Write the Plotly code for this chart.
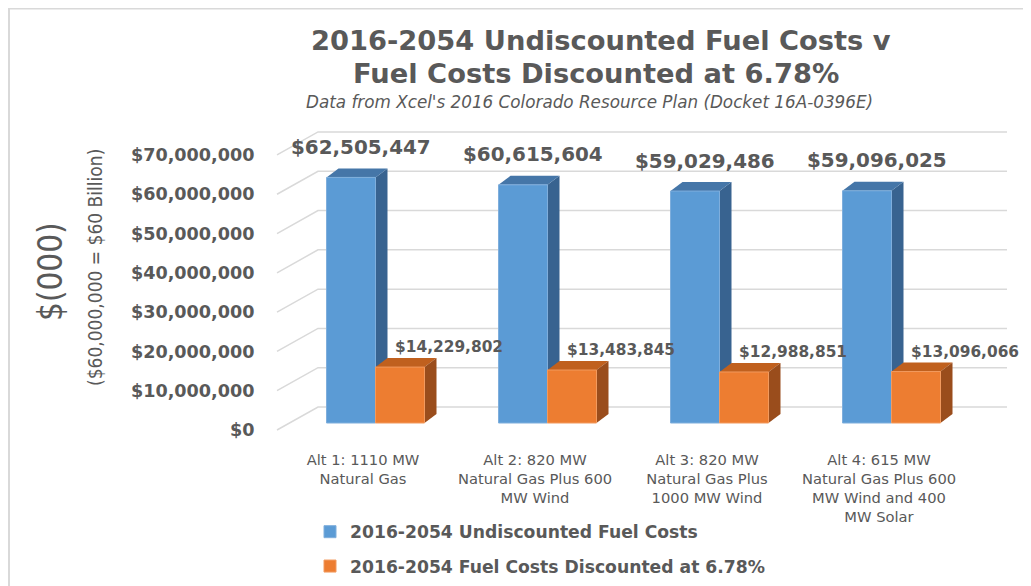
import plotly.graph_objects as go

# ---------------- data ----------------
categories = [
    "Alt 1: 1110 MW<br>Natural Gas",
    "Alt 2: 820 MW<br>Natural Gas Plus 600<br>MW Wind",
    "Alt 3: 820 MW<br>Natural Gas Plus<br>1000 MW Wind",
    "Alt 4: 615 MW<br>Natural Gas Plus 600<br>MW Wind and 400<br>MW Solar",
]
undiscounted = [62505447, 60615604, 59029486, 59096025]
discounted = [14229802, 13483845, 12988851, 13096066]
series_names = [
    "2016-2054 Undiscounted Fuel Costs",
    "2016-2054 Fuel Costs Discounted at 6.78%",
]
tick_values = [0, 10000000, 20000000, 30000000, 40000000, 50000000, 60000000, 70000000]
tick_labels = ["$" + format(v, ",") for v in tick_values]

# ---------------- layout geometry (screen pixels) ----------------
OFF = 8                      # page body margin
WIN_W, WIN_H = 1031, 586
FIG_W, FIG_H = WIN_W - OFF, WIN_H - OFF
PL, PR, PT, PB = 270, 1015, 120, 445
X0_PX = 375.5          # pixel of category 0
PX_PER_CAT = 172.0
Y0_PX = 423.0          # pixel of value 0 (bar front plane)
PX_PER_VAL = 3.929e-6

def dx(px):
    return px / PX_PER_CAT

def dy(px):
    return px / PX_PER_VAL

def xpx(px):
    return (px - X0_PX) / PX_PER_CAT

def ppx(px):
    return (px - PL) / (PR - PL)

def ppy(py):
    return (PB - py) / (PB - PT)

xr = [xpx(PL), xpx(PR)]
yr = [(Y0_PX - PB) / PX_PER_VAL, (Y0_PX - PT) / PX_PER_VAL]

BAR_W = dx(49)
DEPTH_X = dx(12)
DEPTH_Y = dy(9)

BLUE, BLUE_TOP, BLUE_SIDE = "#5B9BD5", "#4576A8", "#386390"
ORANGE, ORANGE_TOP, ORANGE_SIDE = "#ED7D31", "#C0601E", "#9A4D1C"
GRID = "#D9D9D9"
TXT = "#595959"
BOLD = "DejaVu Sans"
NARROW = "Liberation Sans Narrow, DejaVu Sans Condensed, sans-serif"

shapes = []

# back wall + side wall gridlines
x_front = xpx(277)
x_back = xpx(318)
x_end = xpx(1007)
for v in tick_values:
    fy = v - dy(7)
    by = v + dy(16)
    shapes.append(dict(
        type="path", xref="x", yref="y", layer="below",
        path=f"M {x_front},{fy} L {x_back},{by} L {x_end},{by}",
        line=dict(color=GRID, width=1.5),
    ))

def poly(pts, color):
    p = "M " + " L ".join(f"{a},{b}" for a, b in pts) + " Z"
    return dict(type="path", xref="x", yref="y", layer="below", path=p,
                fillcolor=color, line=dict(width=0))

xs = list(range(len(categories)))
# blue side + top faces
for i, v in zip(xs, undiscounted):
    shapes.append(poly([(i, 0), (i + DEPTH_X, DEPTH_Y), (i + DEPTH_X, v + DEPTH_Y), (i, v)], BLUE_SIDE))
    shapes.append(poly([(i - BAR_W, v), (i, v), (i + DEPTH_X, v + DEPTH_Y), (i - BAR_W + DEPTH_X, v + DEPTH_Y)], BLUE_TOP))
# orange top + side faces
for i, v in zip(xs, discounted):
    shapes.append(poly([(i, v), (i + BAR_W, v), (i + BAR_W + DEPTH_X, v + DEPTH_Y), (i + DEPTH_X, v + DEPTH_Y)], ORANGE_TOP))
    shapes.append(poly([(i + BAR_W, 0), (i + BAR_W + DEPTH_X, DEPTH_Y), (i + BAR_W + DEPTH_X, v + DEPTH_Y), (i + BAR_W, v)], ORANGE_SIDE))

# chart border (top and left edges visible)
shapes.append(dict(
    type="path", xref="paper", yref="paper", layer="above",
    path=f"M {ppx(9)},{ppy(600)} L {ppx(9)},{ppy(8.5)} L {ppx(1040)},{ppy(8.5)}",
    line=dict(color="#D9D9D9", width=2),
))

fig = go.Figure()
fig.add_trace(go.Bar(
    x=xs, y=undiscounted, width=BAR_W, offset=-BAR_W, name=series_names[0],
    legendgroup="a", marker=dict(color=BLUE, line=dict(color="#7FAEDC", width=1)),
))
fig.add_trace(go.Bar(
    x=xs, y=discounted, width=BAR_W, offset=0, name=series_names[1],
    legendgroup="b", marker=dict(color=ORANGE, line=dict(color="#F29A5E", width=1)),
))

annotations = []
for i, v in zip(xs, undiscounted):
    annotations.append(dict(
        x=i - BAR_W / 2 + dx(10), y=v, xref="x", yref="y", yshift=30,
        xanchor="center", yanchor="middle",
        text="$" + format(v, ","), showarrow=False,
        font=dict(family=BOLD, size=19.9, color=TXT, weight="bold"),
    ))
for i, v in zip(xs, discounted):
    annotations.append(dict(
        x=i + BAR_W / 2 + dx(49), y=v, xref="x", yref="y", yshift=20,
        xanchor="center", yanchor="middle",
        text="$" + format(v, ","), showarrow=False,
        font=dict(family=BOLD, size=15.4, color=TXT, weight="bold"),
    ))

# titles
annotations += [
    dict(x=ppx(601), y=ppy(40), xref="paper", yref="paper", showarrow=False,
         xanchor="center", yanchor="middle",
         text="2016-2054 Undiscounted Fuel Costs v",
         font=dict(family=BOLD, size=27.3, color=TXT, weight="bold")),
    dict(x=ppx(596), y=ppy(73), xref="paper", yref="paper", showarrow=False,
         xanchor="center", yanchor="middle",
         text="Fuel Costs Discounted at 6.78%",
         font=dict(family=BOLD, size=27.3, color=TXT, weight="bold")),
    dict(x=ppx(589), y=ppy(102), xref="paper", yref="paper", showarrow=False,
         xanchor="center", yanchor="middle",
         text="Data from Xcel's 2016 Colorado Resource Plan (Docket 16A-0396E)",
         font=dict(family="DejaVu Sans", size=16.8, color=TXT, style="italic")),
    dict(x=ppx(50), y=ppy(272), xref="paper", yref="paper", showarrow=False,
         xanchor="center", yanchor="middle",
         text="$(000)", textangle=-90,
         font=dict(family=NARROW, size=33, color=TXT)),
    dict(x=ppx(95), y=ppy(268), xref="paper", yref="paper", showarrow=False,
         xanchor="center", yanchor="middle",
         text="($60,000,000 = $60 Billion)", textangle=-90,
         font=dict(family=NARROW, size=19, color=TXT)),
]

fig.update_layout(
    width=FIG_W, height=FIG_H,
    margin=dict(l=PL - OFF, r=WIN_W - PR, t=PT - OFF, b=WIN_H - PB, autoexpand=False),
    paper_bgcolor="white", plot_bgcolor="white",
    barmode="overlay",
    shapes=shapes, annotations=annotations,
    showlegend=True,
    legend=dict(
        x=ppx(310), y=ppy(514), xanchor="left", yanchor="top",
        font=dict(family=BOLD, size=17.2, color=TXT, weight="bold"),
        tracegroupgap=9, bgcolor="rgba(0,0,0,0)", traceorder="grouped",
    ),
    xaxis=dict(
        range=xr, tickvals=[i - dx(12.5) for i in xs], ticktext=categories,
        showgrid=False, zeroline=False, showline=False, ticks="outside",
        ticklen=1, tickcolor="rgba(0,0,0,0)",
        tickfont=dict(family="DejaVu Sans", size=14.7, color=TXT),
        fixedrange=True,
    ),
    yaxis=dict(
        range=yr, tickvals=[v - dy(7) for v in tick_values], ticktext=tick_labels,
        showgrid=False, zeroline=False, showline=False, ticks="outside",
        ticklen=11, tickcolor="rgba(0,0,0,0)",
        tickfont=dict(family=BOLD, size=17.6, color=TXT, weight="bold"),
        fixedrange=True,
    ),
)

fig.write_html("out.html", config={"displayModeBar": False})
